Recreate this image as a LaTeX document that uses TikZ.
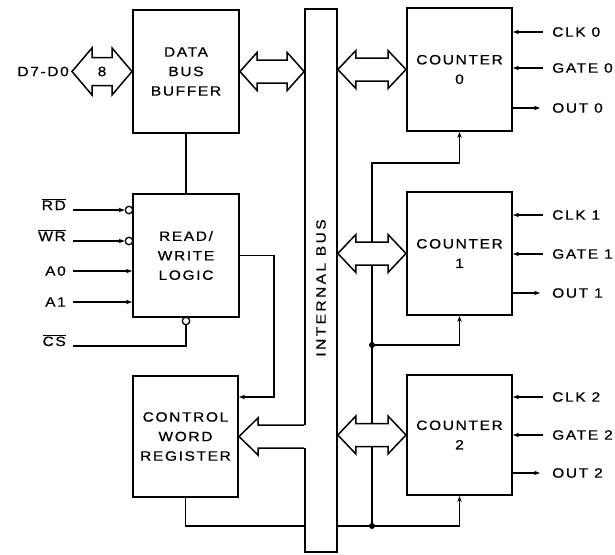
\documentclass[tikz,border=0pt]{standalone}
\usepackage{fontspec}
\usetikzlibrary{calc,arrows.meta}
\newfontfamily\lblfont[FakeStretch=1.15,LetterSpace=12,FakeBold=0.6]{Liberation Sans}
\newcommand{\dblarrow}[5]{%
  \draw[busarrow] let \p1=(#4), \p2=(#5) in
    (\x1,\y1) -- (\x1+#1pt,\y1+#2pt) -- (\x1+#1pt,\y1+#3pt) -- (\x2-#1pt,\y1+#3pt)
    -- (\x2-#1pt,\y1+#2pt) -- (\x2,\y1) -- (\x2-#1pt,\y1-#2pt) -- (\x2-#1pt,\y1-#3pt)
    -- (\x1+#1pt,\y1-#3pt) -- (\x1+#1pt,\y1-#2pt) -- cycle;}
\tikzset{
  >={Stealth[length=6pt,width=4.5pt]},
  blk/.style={draw, line width=2pt, fill=white, inner sep=0pt, align=center,
    font=\lblfont\fontsize{13.5}{19.5}\selectfont},
  lbl/.style={inner sep=0pt, font=\lblfont\fontsize{13.5}{15}\selectfont},
  conn/.style={line width=1.4pt},
  busarrow/.style={line width=1.5pt, fill=white, line join=miter},
  inv/.style={circle, draw, line width=1.3pt, fill=white, minimum size=7.5pt, inner sep=0pt},
  junc/.style={circle, fill=black, minimum size=6pt, inner sep=0pt}
}
\begin{document}
\begin{tikzpicture}[x=1pt,y=-1pt]
\useasboundingbox (0,0) rectangle (615,554);
% blocks
\node[blk, minimum width=106pt, minimum height=123pt] (dbb) at (186,71.5) {DATA\\BUS\\BUFFER};
\node[blk, minimum width=106pt, minimum height=123pt] (rwl) at (186,255.5) {READ/\\WRITE\\LOGIC};
\node[blk, minimum width=105pt, minimum height=121pt] (cwr) at (185.5,436.5) {CONTROL\\WORD\\REGISTER};
\node[blk, minimum width=105pt, minimum height=123pt] (c0) at (459.5,69.5) {COUNTER\\0};
\node[blk, minimum width=105pt, minimum height=123pt] (c1) at (459.5,253.5) {COUNTER\\1};
\node[blk, minimum width=105pt, minimum height=120pt] (c2) at (459.5,435) {COUNTER\\2};
% internal connections (drawn below bus)
\coordinate (j0) at (372,163);
\coordinate (j1) at (372,345);
\coordinate (j2) at (372,526);
\draw[conn,->] (cwr.south) |- (j2) -| (c2.south);
\draw[conn,->] (j2) -- (j1) -| (c1.south);
\draw[conn,->] (j1) -- (j0) -| (c0.south);
\node[junc] (jd1) at (j1) {};
\node[junc] (jd2) at (j2) {};
\draw[conn] (dbb.south) -- (rwl.north);
\coordinate (cwrin) at ($(cwr.north east)+(0,22)$);
\draw[conn,->] (rwl.east) -- ++(34,0) |- (cwrin);
% internal bus
\node[draw, fill=white, line width=1.7pt, minimum width=32pt, minimum height=543pt, inner sep=0pt] (bus) at (321,280.5) {};
\node[lbl, rotate=90] (buslbl) at (321,288) {\addfontfeatures{LetterSpace=18}INTERNAL BUS};
% bus arrows
\dblarrow{17}{19}{11.5}{dbb.east}{bus.west |- dbb.east}
\dblarrow{18}{19}{11.5}{bus.east |- c0.west}{c0.west}
\dblarrow{18}{19}{11.5}{bus.east |- c1.west}{c1.west}
\dblarrow{18}{19}{11.5}{bus.east |- c2.west}{c2.west}
% control word register arrow (open into bus)
\fill[white] let \p1=(cwr.east), \p2=(bus.west |- cwr.east) in
  (\x1+19pt,\y1+11.5pt) rectangle (\x2+1.5pt,\y1-11.5pt);
\draw[busarrow, fill=none] let \p1=(cwr.east), \p2=(bus.west |- cwr.east) in
  (\x2,\y1+11.5pt) -- (\x1+19pt,\y1+11.5pt) -- (\x1+19pt,\y1+18.5pt) -- (\x1,\y1)
  -- (\x1+19pt,\y1-18.5pt) -- (\x1+19pt,\y1-11.5pt) -- (\x2,\y1-11.5pt);
% D7-D0
\coordinate (dpin) at (72,71.5);
\dblarrow{20}{23.5}{14}{dpin}{dbb.west}
\node[lbl] (eight) at ($(dpin)!0.5!(dbb.west)$) {8};
\node[lbl, anchor=east] (dlbl) at ($(dpin)+(-3,0)$) {D7-D0};
% read/write inputs
\coordinate (rdin) at (73,210);
\coordinate (wrin) at (73,241);
\coordinate (a0in) at (73,271);
\coordinate (a1in) at (73,302);
\coordinate (csin) at (73,346);
\node[inv] (rdc) at (129,210) {};
\node[inv] (wrc) at (129,241) {};
\node[inv] (csc) at (186,321) {};
\draw[conn,->] (rdin) -- (rdc.west);
\draw[conn,->] (wrin) -- (wrc.west);
\draw[conn,->] (a0in) -- (rwl.west |- a0in);
\draw[conn,->] (a1in) -- (rwl.west |- a1in);
\draw[conn] (csin) -| (csc.south);
\node[lbl, anchor=east] (rd) at ($(rdin)+(-7,0)$) {$\smash{\overline{\hbox{RD}}}$};
\node[lbl, anchor=east] (wr) at ($(wrin)+(-7,0)$) {$\smash{\overline{\hbox{WR}}}$};
\node[lbl, anchor=east] (a0) at ($(a0in)+(-7,0)$) {A0};
\node[lbl, anchor=east] (a1) at ($(a1in)+(-7,0)$) {A1};
\node[lbl, anchor=east] (cs) at ($(csin)+(-7,0)$) {$\smash{\overline{\hbox{CS}}}$};
% counter pins
\foreach \n/\yc/\yg/\yo in {0/32/68/108, 1/215/254/293, 2/397/435/473}{
  \coordinate (clk\n) at (543,\yc);
  \coordinate (gate\n) at (543,\yg);
  \coordinate (out\n) at (540,\yo);
  \draw[conn,->] (clk\n) -- (c\n.east |- clk\n);
  \draw[conn,->] (gate\n) -- (c\n.east |- gate\n);
  \draw[conn,->] (c\n.east |- out\n) -- (out\n);
  \node[lbl, anchor=west] (clkl\n) at (552,\yc) {CLK \n};
  \node[lbl, anchor=west] (gatel\n) at (552,\yg) {GATE \n};
  \node[lbl, anchor=west] (outl\n) at (552,\yo) {OUT \n};
}
\end{tikzpicture}
\end{document}
